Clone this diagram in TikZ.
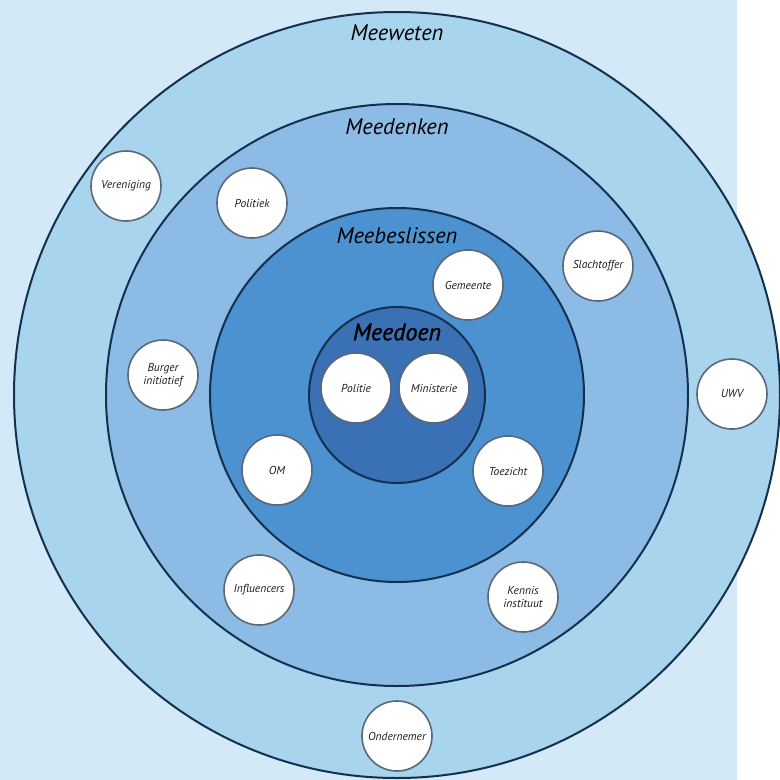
\documentclass[tikz,border=0pt]{standalone}
\usepackage{fontspec}
\setmainfont{PT Sans}
\newfontfamily\heavyital[ItalicFeatures={FakeBold=1.2}]{PT Sans}
\definecolor{bgc}{HTML}{D4E9F7}
\definecolor{ringA}{HTML}{A9D4EE}
\definecolor{ringB}{HTML}{8CBCE6}
\definecolor{ringC}{HTML}{4C91D0}
\definecolor{ringD}{HTML}{3A70B4}
\definecolor{edge}{HTML}{13304F}
\definecolor{smalledge}{HTML}{586878}
\definecolor{txt}{HTML}{1E1E1E}
\begin{document}
\begin{tikzpicture}[x=1pt,y=-1pt,
  ring/.style={draw=edge,line width=2pt},
  actor/.style={circle,draw=smalledge,line width=1.6pt,fill=white,minimum size=70pt,inner sep=0pt,align=center,font=\itshape\fontsize{11.5}{13}\selectfont,text=txt},
  ringlabel/.style={font=\itshape\fontsize{22.5}{25}\selectfont,text=black}]
\useasboundingbox (0,0) rectangle (780,780);
\clip (0,0) rectangle (780,780);
\fill[bgc] (0,0) rectangle (737,780);
\fill[white] (737,0) rectangle (780,780);
\coordinate (c) at (397,395);
\draw[ring,fill=ringA] (c) circle (383);
\draw[ring,fill=ringB] (c) circle (291);
\draw[ring,fill=ringC] (c) circle (187);
\draw[ring,fill=ringD] (c) circle (88);
\node[ringlabel] (lweten) at (397,33) {Meeweten};
\node[ringlabel] (ldenken) at (397,127) {Meedenken};
\node[ringlabel] (lbeslissen) at (397,236) {Meebeslissen};
\node[ringlabel,font=\heavyital\itshape\fontsize{24}{27}\selectfont] (ldoen) at (397,332) {Meedoen};
\node[actor] (vereniging) at (126,186) {Vereniging};
\node[actor] (politiek) at (252,203) {Politiek};
\node[actor] (gemeente) at (468,285) {Gemeente};
\node[actor] (slachtoffer) at (598,266) {Slachtoffer};
\node[actor] (burger) at (163,375) {Burger\\initiatief};
\node[actor] (uwv) at (732,394) {UWV};
\node[actor] (politie) at (356,388) {Politie};
\node[actor] (ministerie) at (434,388) {Ministerie};
\node[actor] (om) at (277,470) {OM};
\node[actor] (toezicht) at (508,471) {Toezicht};
\node[actor] (influencers) at (259,590) {Influencers};
\node[actor] (kennis) at (523,597) {Kennis\\instituut};
\node[actor] (ondernemer) at (397,736) {Ondernemer};
\end{tikzpicture}
\end{document}
